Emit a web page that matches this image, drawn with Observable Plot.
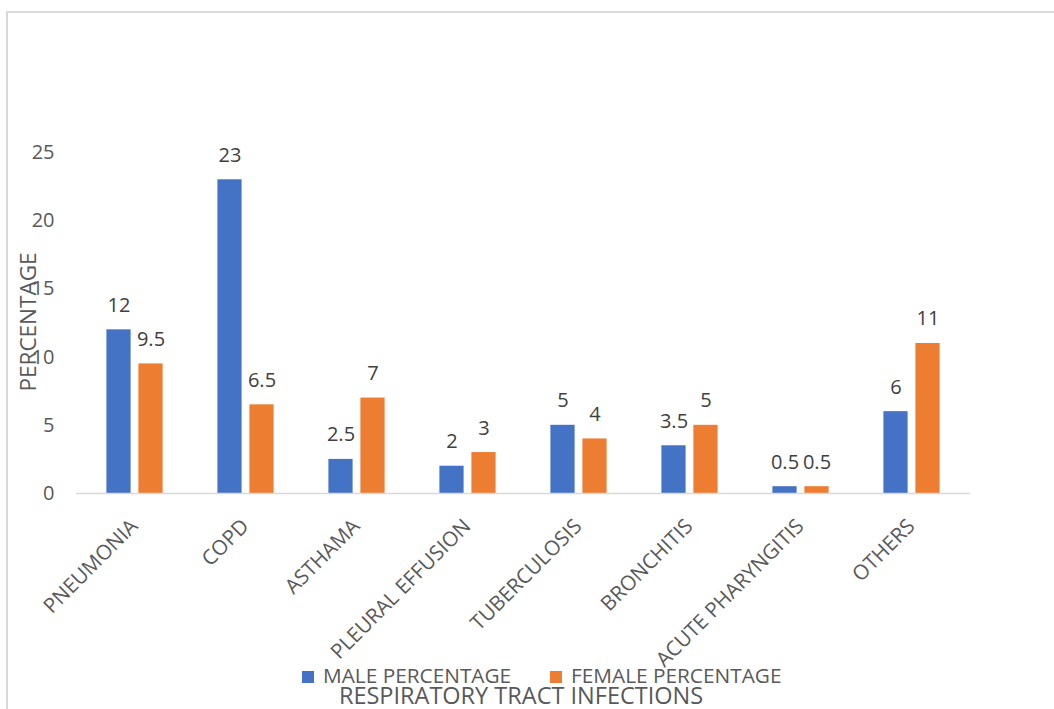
<!DOCTYPE html>
<html>
<head>
<meta charset="utf-8">
<script src="https://cdn.jsdelivr.net/npm/d3@7"></script>
<script src="https://cdn.jsdelivr.net/npm/@observablehq/plot@0.6"></script>
<style>
  html, body { margin: 0; padding: 0; background: #fff; overflow: hidden; }
  body { width: 1054px; height: 709px; position: relative; font-family: "Open Sans", sans-serif; color: #595959; }
  #frame { position: absolute; left: 6px; top: 11px; width: 1100px; height: 800px; border: 2px solid #d9d9d9; box-sizing: border-box; }
  #chart { position: absolute; left: 0; top: 0; }
  .t { position: absolute; white-space: nowrap; line-height: 14px; font-size: 20.8px; }
  .sw { position: absolute; width: 12px; height: 12px; }
  #ytitle { position: absolute; width: 200px; text-align: center; font-size: 22.5px; line-height: 22px; transform: rotate(-90deg); transform-origin: 50% 50%; white-space: nowrap; }
</style>
</head>
<body>
<div id="frame"></div>
<div id="chart"></div>
<div id="ytitle" style="left:-72px; top:311px;">PERCENTAGE</div>
<div class="sw" style="left:302px; top:671px; background:#4472C4"></div>
<div class="t" style="left:323px; top:668px;">MALE PERCENTAGE</div>
<div class="sw" style="left:550px; top:671px; background:#ED7D31"></div>
<div class="t" style="left:571px; top:668px;">FEMALE PERCENTAGE</div>
<div class="t" style="left:321px; width:400px; text-align:center; top:687px; font-size:23.5px; line-height:16px;">RESPIRATORY TRACT INFECTIONS</div>
<script>
const categories = ["PNEUMONIA", "COPD", "ASTHAMA", "PLEURAL EFFUSION", "TUBERCULOSIS", "BRONCHITIS", "ACUTE PHARYNGITIS", "OTHERS"];
const malePercentage = [12, 23, 2.5, 2, 5, 3.5, 0.5, 6];
const femalePercentage = [9.5, 6.5, 7, 3, 4, 5, 0.5, 11];
const yTicks = [0, 5, 10, 15, 20, 25];

const data = categories.map((c, i) => ({category: c, male: malePercentage[i], female: femalePercentage[i]}));

const plot = Plot.plot({
  width: 1054,
  height: 709,
  marginTop: 152,
  marginBottom: 216,
  marginLeft: 76,
  marginRight: 84,
  style: {fontFamily: "'Open Sans', sans-serif", fontSize: "20px", color: "#595959", background: "transparent", overflow: "visible"},
  x: {domain: categories, padding: 0, axis: null},
  y: {domain: [0, 25], axis: null},
  marks: [
    Plot.axisY(yTicks, {tickSize: 0, tickPadding: 22, label: null, fontSize: 20, fill: "#595959"}),
    Plot.barY(data, {x: "category", y: "male", fill: "#4472C4", insetLeft: 27.4, insetRight: 59.4}),
    Plot.barY(data, {x: "category", y: "female", fill: "#ED7D31", insetLeft: 59.4, insetRight: 27.4}),
    Plot.ruleY([0], {stroke: "#d9d9d9", strokeWidth: 1.5}),
    Plot.text(data, {x: "category", y: "male", text: d => String(d.male), dx: -16, dy: -18, lineAnchor: "bottom", fill: "#404040", fontSize: 20}),
    Plot.text(data, {x: "category", y: "female", text: d => String(d.female), dx: 16, dy: -18, lineAnchor: "bottom", fill: "#404040", fontSize: 20}),
    Plot.text(categories, {x: d => d, frameAnchor: "bottom", rotate: -45, textAnchor: "end", lineAnchor: "bottom", dx: 4, dy: 34, fill: "#595959", fontSize: 20.6})
  ]
});
document.getElementById("chart").appendChild(plot);
</script>
</body>
</html>
